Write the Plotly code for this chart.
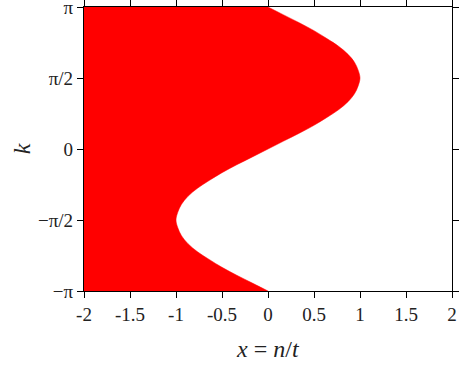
import math
import plotly.graph_objects as go

# boundary of the filled region: x at each k
k_vals = [-3.1416, -2.967, -2.793, -2.618, -2.443, -2.269, -2.094, -1.920, -1.745,
          -1.571, -1.396, -1.222, -1.047, -0.873, -0.698, -0.524, -0.349, -0.175,
          0.0, 0.175, 0.349, 0.524, 0.698, 0.873, 1.047, 1.222, 1.396,
          1.571, 1.745, 1.920, 2.094, 2.269, 2.443, 2.618, 2.793, 2.967, 3.1416]
x_edge = [0.0, -0.17, -0.34, -0.50, -0.64, -0.77, -0.87, -0.94, -0.98,
          -1.00, -0.98, -0.94, -0.87, -0.77, -0.64, -0.50, -0.34, -0.17,
          0.0, 0.17, 0.34, 0.50, 0.64, 0.77, 0.87, 0.94, 0.98,
          1.00, 0.98, 0.94, 0.87, 0.77, 0.64, 0.50, 0.34, 0.17, 0.0]
x_left = -2

x_ticks = [-2, -1.5, -1, -0.5, 0, 0.5, 1, 1.5, 2]
x_tick_text = ["-2", "-1.5", "-1", "-0.5", "0", "0.5", "1", "1.5", "2"]
y_ticks = [-math.pi, -math.pi / 2, 0, math.pi / 2, math.pi]
y_tick_text = ["−π", "−π/2", "0", "π/2", "π"]

fig = go.Figure()

# left edge of the region (invisible), then the curve filled back to it
fig.add_trace(go.Scatter(
    x=[x_left] * len(k_vals),
    y=k_vals,
    mode="lines",
    line=dict(width=0),
    hoverinfo="skip",
    showlegend=False
))

fig.add_trace(go.Scatter(
    x=x_edge,
    y=k_vals,
    fill="tonextx",
    fillcolor="#ff0000",
    mode="lines",
    line=dict(color="#ff0000", width=0.5, shape="spline"),
    hoverinfo="skip",
    showlegend=False
))

axis_style = dict(
    showgrid=False,
    zeroline=False,
    showline=True,
    linecolor="black",
    linewidth=1.3,
    mirror="ticks",
    ticks="outside",
    ticklen=6,
    tickwidth=1.3,
    tickcolor="black",
    automargin=False,
    ticklabeloverflow="allow",
)

font = dict(family="Liberation Serif, DejaVu Serif, serif", size=19, color="#222")
title_font = dict(family="Liberation Serif, DejaVu Serif, serif", size=24, color="#222")

fig.update_layout(
    width=466,
    height=368,
    margin=dict(l=84, r=14, t=7, b=77),
    plot_bgcolor="white",
    paper_bgcolor="white",
    font=font,
    xaxis=dict(range=[-2, 2], tickvals=x_ticks, ticktext=x_tick_text, **axis_style),
    yaxis=dict(range=[-math.pi, math.pi], tickvals=y_ticks, ticktext=y_tick_text,
               **axis_style),
)

# axis titles placed as annotations
fig.add_annotation(text="<i>x</i> = <i>n</i>/<i>t</i>", xref="paper", yref="paper",
                   x=0.5, y=-0.205, yanchor="middle", showarrow=False, font=title_font)
fig.add_annotation(text="<i>k</i>", xref="paper", yref="paper",
                   x=-0.168, y=0.5, xanchor="center", textangle=-90,
                   showarrow=False, font=title_font)

fig.write_html("out.html", config={"displayModeBar": False},
               post_script="document.body.style.margin='0';")
